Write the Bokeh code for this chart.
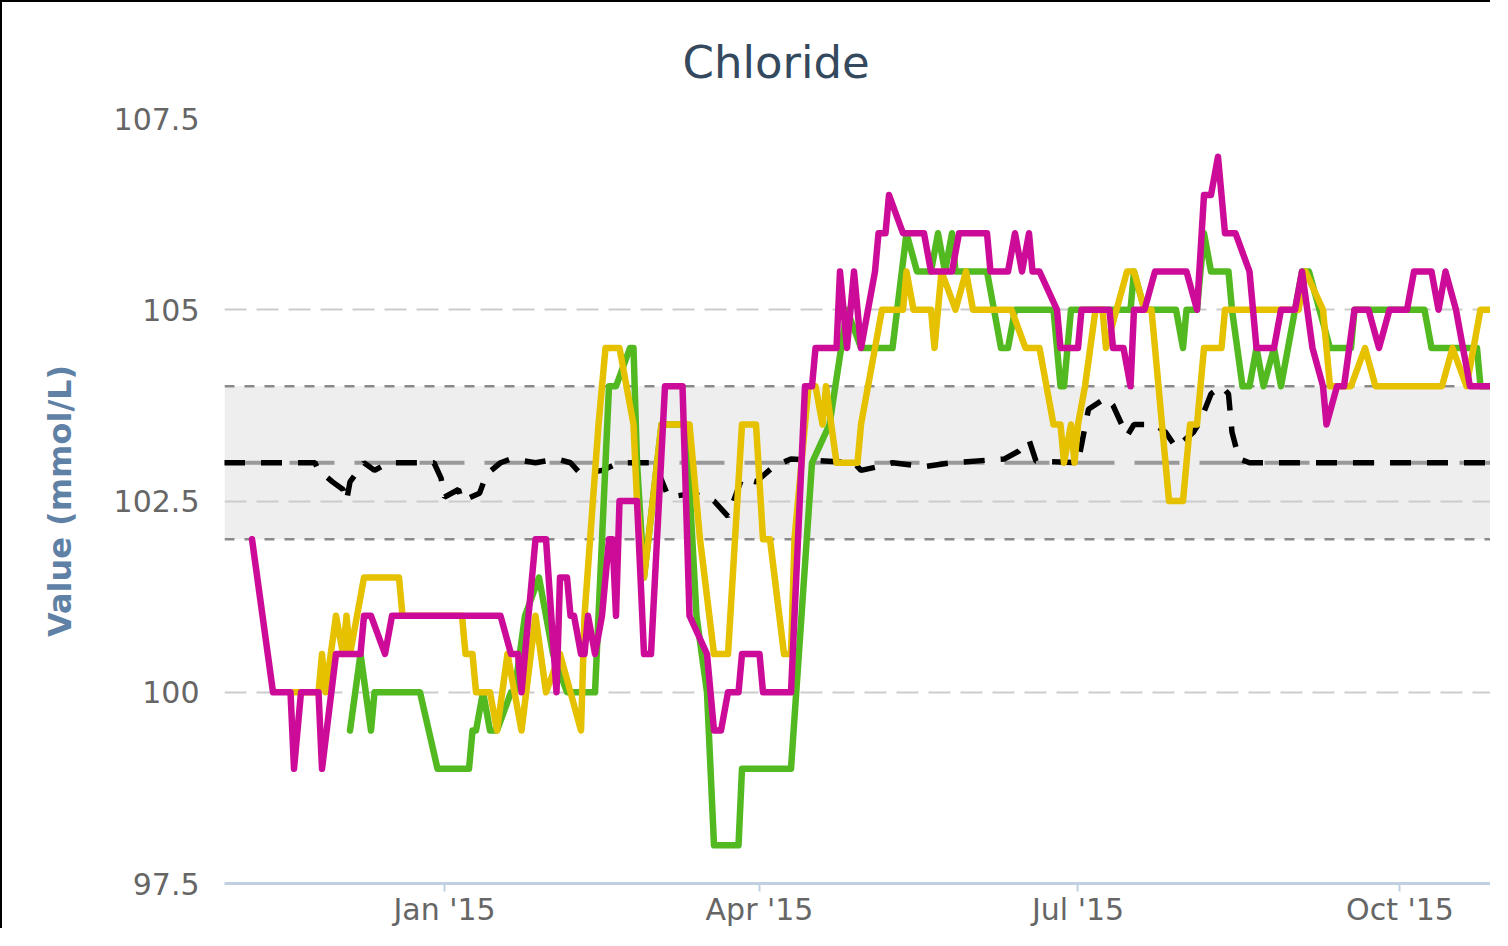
import pandas as pd
from bokeh.plotting import figure
from bokeh.models import BoxAnnotation, Span, FixedTicker, Range1d, DatetimeTickFormatter
from bokeh.embed import file_html
from bokeh.resources import INLINE

# ---- data (days counted from 2015-01-01, values in mmol/L) ----
base_date = "2015-01-01"

black_days = [-63, -37, -36, -32, -29, -28, -27, -23, -20, -16, -3, -1, 0, 4, 5, 10, 12, 16, 19, 26,
              32, 36, 39, 45, 50, 60, 64, 71, 77, 81, 83, 85, 89, 94, 99, 117, 119, 124, 128, 137,
              145, 160, 164, 167, 169, 181, 184, 189, 191, 195, 197, 203, 206, 209, 214, 216, 219,
              222, 224, 225, 227, 230, 300]
black_vals = [103, 103, 102.9, 102.75, 102.65, 102.5, 102.75, 103, 102.9, 103, 103, 102.8, 102.55,
              102.65, 102.5, 102.6, 102.85, 103, 103.05, 103, 103.05, 103, 102.85, 102.9, 103, 103,
              102.55, 102.6, 102.5, 102.3, 102.55, 102.8, 102.75, 102.95, 103.05, 103, 102.9, 102.95,
              103, 102.95, 103, 103.05, 103.15, 103.3, 103.02, 103, 103.7, 103.85, 103.75, 103.35,
              103.5, 103.5, 103.4, 103.2, 103.4, 103.55, 103.9, 104, 103.9, 103.4, 103.05, 103, 103]

green_days = [-27, -24, -21, -20, -7, -2, 7, 8, 9, 11, 13, 15, 19, 20, 23, 27, 29, 31, 35, 43, 47,
              49, 53, 54, 55, 57, 62, 69, 72, 75, 77, 84, 85, 99, 105, 110, 115, 119, 128, 132, 135,
              139, 141, 143, 145, 146, 155, 157, 159, 161, 163, 174, 176, 177, 179, 196, 197, 200,
              209, 211, 212, 215, 217, 219, 224, 225, 228, 230, 232, 234, 237, 239, 245, 247, 253,
              259, 260, 280, 282, 295, 296, 299]
green_vals = [99.5, 100.5, 99.5, 100, 100, 99, 99, 99.5, 99.5, 100, 99.5, 99.5, 100, 100, 101, 101.5,
              101, 100.5, 100, 100, 104, 104, 104.5, 104.5, 103, 101.5, 103.5, 103.5, 101, 100, 98,
              98, 99, 99, 103, 103.5, 105, 104.5, 104.5, 106, 105.5, 105.5, 106, 105.5, 106, 105.5,
              105.5, 105, 104.5, 104.5, 105, 105, 104, 104, 105, 105, 105.5, 105, 105, 104.5, 105,
              105, 106, 105.5, 105.5, 105, 104, 104, 104.5, 104, 104.5, 104, 105.5, 105.5, 104.5,
              104.5, 105, 105, 104.5, 104.5, 104, 104]

yellow_days = [-43, -36, -35, -34, -31, -29, -28, -27, -23, -13, -12, 5, 6, 8, 9, 13, 15, 18, 22, 26,
               29, 33, 39, 40, 44, 46, 50, 54, 55, 57, 62, 70, 73, 77, 81, 85, 89, 91, 93, 97, 99,
               100, 104, 106, 108, 109, 112, 118, 119, 125, 131, 132, 134, 139, 140, 142, 146, 149,
               151, 162, 166, 170, 172, 174, 176, 177, 179, 180, 181, 183, 186, 188, 189, 192, 195,
               197, 200, 202, 207, 211, 213, 215, 217, 222, 223, 244, 246, 251, 253, 259, 263, 266,
               285, 288, 292, 296, 299]
yellow_vals = [100, 100, 100.5, 100, 101, 100.5, 101, 100.5, 101.5, 101.5, 101, 101, 100.5, 100.5,
               100, 100, 99.5, 100.5, 99.5, 101, 100, 100.5, 99.5, 101, 103.5, 104.5, 104.5, 103.5,
               102.5, 101.5, 103.5, 103.5, 102, 100.5, 100.5, 103.5, 103.5, 102, 102, 100.5, 100.5,
               102, 104, 104, 103.5, 104, 103, 103, 103.5, 105, 105, 105.5, 105, 105, 104.5, 105.5,
               105, 105.5, 105, 105, 104.5, 104.5, 104, 103.5, 103.5, 103, 103.5, 103, 103.5, 104,
               105, 105, 104.5, 105, 105.5, 105.5, 105, 105, 102.5, 102.5, 103.5, 103.5, 104.5,
               104.5, 105, 105, 105.5, 105, 104, 104, 104.5, 104, 104, 104.5, 104, 105, 105]

magenta_days = [-55, -49, -44, -43, -41, -36, -35, -31, -24, -23, -21, -17, -15, 16, 19, 21, 22, 26,
                29, 32, 33, 35, 36, 37, 39, 40, 41, 43, 45, 47, 48, 49, 50, 55, 57, 59, 63, 68, 70,
                75, 77, 79, 81, 84, 85, 90, 91, 99, 103, 105, 106, 112, 113, 115, 117, 119, 123, 124,
                126, 127, 131, 137, 139, 145, 147, 155, 156, 161, 163, 165, 167, 168, 170, 175, 176,
                181, 182, 190, 191, 194, 196, 197, 200, 203, 212, 215, 217, 219, 221, 223, 226, 230,
                232, 237, 239, 243, 245, 248, 251, 252, 255, 257, 260, 264, 267, 270, 275, 277, 282,
                284, 286, 289, 293, 299]
magenta_vals = [102, 100, 100, 99, 100, 100, 99, 100.5, 100.5, 101, 101, 100.5, 101, 101, 100.5,
                100.5, 100, 102, 102, 100, 101.5, 101.5, 101, 101, 100.5, 100.5, 101, 100.5, 101, 102,
                102, 101, 102.5, 102.5, 100.5, 100.5, 104, 104, 101, 100.5, 99.5, 99.5, 100, 100,
                100.5, 100.5, 100, 100, 104, 104, 104.5, 104.5, 105.5, 104.5, 105.5, 104.5, 105.5,
                106, 106, 106.5, 106, 106, 105.5, 105.5, 106, 106, 105.5, 105.5, 106, 105.5, 106,
                105.5, 105.5, 105, 104.5, 104.5, 105, 105, 104.5, 104.5, 104, 105, 105, 105.5, 105.5,
                105, 106.5, 106.5, 107, 106, 106, 105.5, 104.5, 104.5, 105, 105, 105.5, 104.5, 104,
                103.5, 104, 104, 105, 105, 104.5, 105, 105, 105.5, 105.5, 105, 105.5, 105, 104, 104]

band_low, band_high, target = 102, 104, 103
y_ticks = [97.5, 100, 102.5, 105, 107.5]
y_tick_labels = ["97.5", "100", "102.5", "105", "107.5"]
x_tick_dates = ["2015-01-01", "2015-04-01", "2015-07-01", "2015-10-01"]
x_view_days = [-62.86, 299.43]

base = pd.Timestamp(base_date)


def to_dates(days):
    return [base + pd.Timedelta(days=d) for d in days]


FONT = "DejaVu Sans"

p = figure(width=1490, height=928, x_axis_type="datetime",
           output_backend="svg", toolbar_location=None,
           x_range=Range1d(to_dates([x_view_days[0]])[0], to_dates([x_view_days[1]])[0]),
           y_range=Range1d(97.5, 107.5),
           min_border_left=222, min_border_right=0, min_border_top=116, min_border_bottom=47,
           title="Chloride")
p.styles = {"border-left": "2px solid black", "border-top": "2px solid black"}
p.outline_line_color = None
p.background_fill_color = "white"
p.border_fill_color = "white"

p.title.text_font = FONT
p.title.text_font_size = "45px"
p.title.text_font_style = "normal"
p.title.text_color = "#34495e"
p.title.align = "left"
p.title.offset = 458
p.title.standoff = 56
p.title.vertical_align = "top"

# y axis
p.yaxis.ticker = FixedTicker(ticks=y_ticks)
p.yaxis.major_label_overrides = {t: l for t, l in zip(y_ticks, y_tick_labels)}
p.yaxis.major_label_text_font = FONT
p.yaxis.major_label_text_font_size = "30px"
p.yaxis.major_label_text_color = "#666666"
p.yaxis.axis_line_color = None
p.yaxis.major_tick_line_color = None
p.yaxis.minor_tick_line_color = None
p.yaxis.major_tick_out = 0
p.yaxis.major_tick_in = 0
p.yaxis.major_label_standoff = 25
p.yaxis.axis_label = "Value (mmol/L)"
p.yaxis.axis_label_text_font = FONT
p.yaxis.axis_label_text_font_size = "32px"
p.yaxis.axis_label_text_font_style = "bold"
p.yaxis.axis_label_text_color = "#5f81a5"
p.yaxis.axis_label_standoff = 32

# x axis
x_ticks_ms = [pd.Timestamp(t).value / 1e6 for t in x_tick_dates]
p.xaxis.ticker = FixedTicker(ticks=x_ticks_ms)
fmt = "%b '%y"
p.xaxis.formatter = DatetimeTickFormatter(milliseconds=fmt, seconds=fmt, minsec=fmt, minutes=fmt,
                                          hourmin=fmt, hours=fmt, days=fmt, months=fmt, years=fmt)
p.xaxis.axis_line_color = "#c0d0e0"
p.xaxis.axis_line_width = 3
p.xaxis.major_tick_line_color = "#c0d0e0"
p.xaxis.major_tick_line_width = 2
p.xaxis.major_tick_out = 8
p.xaxis.major_tick_in = 0
p.xaxis.minor_tick_line_color = None
p.xaxis.major_label_text_font = FONT
p.xaxis.major_label_text_font_size = "30px"
p.xaxis.major_label_text_color = "#666666"
p.xaxis.major_label_standoff = 0

# grid
p.xgrid.grid_line_color = None
p.ygrid.ticker = FixedTicker(ticks=y_ticks)
p.ygrid.grid_line_color = "#cccccc"
p.ygrid.grid_line_width = 2
p.ygrid.grid_line_dash = "22 10"

# reference band and lines
p.add_layout(BoxAnnotation(bottom=band_low, top=band_high, fill_color="#eeeeee", fill_alpha=1,
                           line_color=None, level="image"))
for loc in (band_low, band_high):
    p.add_layout(Span(location=loc, dimension="width", line_color="#8a8a8a", line_width=2.5,
                      line_dash="10 10", level="underlay"))
p.add_layout(Span(location=target, dimension="width", line_color="#999999", line_width=4,
                  line_dash="45 20", level="underlay"))

# series
p.line(to_dates(black_days), black_vals, line_color="black", line_width=5.5, line_dash="21 16")
for days, vals, col in ((green_days, green_vals, "#52b920"),
                        (yellow_days, yellow_vals, "#e5c100"),
                        (magenta_days, magenta_vals, "#cc0c99")):
    p.line(to_dates(days), vals, line_color=col, line_width=6.5, line_join="round", line_cap="round")

open("out.html", "w").write(file_html(p, INLINE))
